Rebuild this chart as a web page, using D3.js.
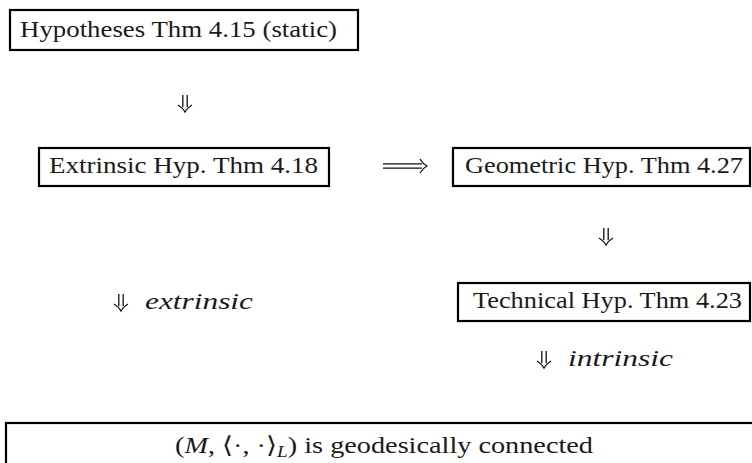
<!DOCTYPE html>
<html><head><meta charset="utf-8">
<script src="https://cdn.jsdelivr.net/npm/d3@7"></script>
<style>html,body{margin:0;padding:0;background:#fff;}svg{display:block;}
svg text{font-family:"Liberation Serif","Times New Roman","DejaVu Serif",serif;}</style>
</head><body>
<script>
// Diagram content
const boxLabels = ["Hypotheses Thm 4.15 (static)", "Extrinsic Hyp. Thm 4.18", "Geometric Hyp. Thm 4.27", "Technical Hyp. Thm 4.23"];
const arrowLabels = ["", "extrinsic", "", "intrinsic"];
const conclusionParts = [["(", false, false], ["M", true, false], [", \u27E8\u00B7, \u00B7\u27E9", false, false], ["L", true, true], [") is geodesically connected", false, false]];

// Layout (pixel positions of the diagram elements)
const boxLayout = [
  {x0: 10, y0: 10, x1: 358, y1: 50, tx0: 20, tx1: 337, base: 37},
  {x0: 39, y0: 148, x1: 329, y1: 186, tx0: 49, tx1: 318, base: 173},
  {x0: 453, y0: 148, x1: 750, y1: 186, tx0: 465, tx1: 743, base: 173},
  {x0: 458, y0: 283, x1: 750, y1: 321, tx0: 473, tx1: 742, base: 308}
];
const downArrows = [
  {x: 185, y0: 95, y1: 112, label: 0},
  {x: 606, y0: 228, y1: 245, label: 2},
  {x: 121, y0: 294, y1: 311, label: 1, lx0: 145, lx1: 253},
  {x: 544, y0: 351, y1: 368, label: 3, lx0: 568, lx1: 673}
];

const W = 752, H = 463;
const svg = d3.select("body").append("svg").attr("width", W).attr("height", H);
const FS = 23.5;

// boxes
const g = svg.append("g");
boxLayout.forEach((b, i) => {
  g.append("rect").attr("x", b.x0).attr("y", b.y0)
    .attr("width", b.x1 - b.x0).attr("height", b.y1 - b.y0)
    .attr("fill", "none").attr("stroke", "#000").attr("stroke-width", 2.2);
  g.append("text").attr("x", b.tx0).attr("y", b.base)
    .attr("font-size", FS)
    .attr("textLength", b.tx1 - b.tx0).attr("lengthAdjust", "spacingAndGlyphs")
    .attr("fill", "#1a1a1a").text(boxLabels[i]);
});

// double-stroke down arrows (⇓) drawn as paths
function downArrow(x, y0, y1) {
  const a = svg.append("g").attr("fill", "none").attr("stroke", "#111").attr("stroke-width", 1.3);
  a.append("line").attr("x1", x - 2.2).attr("x2", x - 2.2).attr("y1", y0).attr("y2", y1 - 5);
  a.append("line").attr("x1", x + 2.2).attr("x2", x + 2.2).attr("y1", y0).attr("y2", y1 - 5);
  a.append("path").attr("d", `M${x - 7},${y1 - 7} Q${x - 2},${y1 - 4} ${x},${y1} Q${x + 2},${y1 - 4} ${x + 7},${y1 - 7}`);
}
downArrows.forEach(d => {
  downArrow(d.x, d.y0, d.y1);
  if (arrowLabels[d.label]) {
    svg.append("text").attr("x", d.lx0).attr("y", d.y1 - 2)
      .attr("font-style", "italic").attr("font-size", FS)
      .attr("textLength", d.lx1 - d.lx0).attr("lengthAdjust", "spacingAndGlyphs")
      .attr("fill", "#1a1a1a").text(arrowLabels[d.label]);
  }
});

// long double right arrow (⟹)
(function () {
  const x0 = 383, x1 = 427, y = 166;
  const a = svg.append("g").attr("fill", "none").attr("stroke", "#111").attr("stroke-width", 1.3);
  a.append("line").attr("x1", x0).attr("x2", x1 - 5).attr("y1", y - 2.2).attr("y2", y - 2.2);
  a.append("line").attr("x1", x0).attr("x2", x1 - 5).attr("y1", y + 2.2).attr("y2", y + 2.2);
  a.append("path").attr("d", `M${x1 - 7},${y - 7} Q${x1 - 4},${y - 2} ${x1},${y} Q${x1 - 4},${y + 2} ${x1 - 7},${y + 7}`);
})();

// conclusion box
svg.append("rect").attr("x", 6).attr("y", 423).attr("width", 800).attr("height", 100)
  .attr("fill", "none").attr("stroke", "#000").attr("stroke-width", 2.2);
const ct = svg.append("text").attr("x", 175).attr("y", 453)
  .attr("font-size", FS).attr("fill", "#1a1a1a")
  .attr("textLength", 418).attr("lengthAdjust", "spacingAndGlyphs");
conclusionParts.forEach(p => {
  const t = ct.append("tspan").text(p[0]);
  if (p[1]) t.attr("font-style", "italic");
  if (p[2]) t.attr("font-size", 16).attr("dy", 4);
  else if (p[0].startsWith(")")) t.attr("dy", -4);
});
</script>
</body></html>
